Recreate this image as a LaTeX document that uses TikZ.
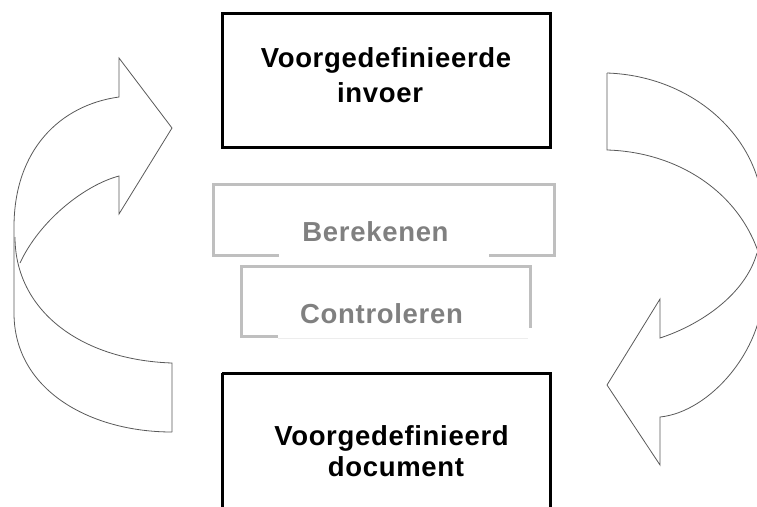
\documentclass[tikz,border=0pt]{standalone}
\usepackage{fontspec}
\setmainfont{Liberation Sans}
\newfontfamily\spaced{Liberation Sans Bold}[LetterSpace=2.5]
\begin{document}
\begin{tikzpicture}[x=1pt,y=-1pt,
  arrowline/.style={draw=black!65, line width=0.8pt, line join=miter},
  blackbox/.style={draw=black, line width=3pt},
  graybox/.style={draw=black!25, line width=3pt},
  maintext/.style={font=\spaced\fontsize{27.5}{30}\selectfont, text=black, anchor=base, inner sep=0pt},
  graytext/.style={font=\spaced\fontsize{27.5}{30}\selectfont, text=black!50, anchor=base, inner sep=0pt}]
\useasboundingbox (0,0) rectangle (757,506);
\clip (0,0) rectangle (757,506);
% black boxes
\draw[blackbox] (222,13) rectangle (550,147);
\draw[blackbox] (222,373) -- (222,520) (550,520) -- (550,373) -- (222,373);
% gray boxes
\draw[graybox] (279,255) -- (213,255) -- (213,184) -- (554,184) -- (554,255) -- (489,255);
\draw[black!7, line width=1pt] (278,338) -- (528,338);
\draw[graybox] (278,336.5) -- (241,336.5) -- (241,266) -- (530,266) -- (530,328);
% texts
\node[maintext] (in1) at (386,67) {Voorgedefinieerde};
\node[maintext] (in2) at (380,102) {invoer};
\node[graytext] (ber) at (375.5,241) {Berekenen};
\node[graytext] (con) at (381.5,323) {Controleren};
\node[maintext] (doc1) at (391.5,445) {Voorgedefinieerd};
\node[maintext] (doc2) at (396,476) {document};
% left curved arrow
\draw[arrowline] (172,432) .. controls (90,432) and (14,390) .. (14,313) -- (14,227)
  .. controls (14,150) and (60,105) .. (119,97) -- (119,58) -- (172,128) -- (119,214) -- (119,176)
  .. controls (85,185) and (40,220) .. (20,263);
\draw[arrowline] (172,432) -- (172,363) .. controls (80,360) and (15,310) .. (15,237);
% right curved arrow
\draw[arrowline] (607,73) .. controls (695,76) and (763,140) .. (763,215) -- (763,290)
  .. controls (763,350) and (710,412) .. (660,417) -- (660,465) -- (607,385) -- (660,299) -- (660,338)
  .. controls (700,325) and (745,295) .. (757,253);
\draw[arrowline] (607,73) -- (607,150) .. controls (680,152) and (745,195) .. (762,265);
\end{tikzpicture}
\end{document}
